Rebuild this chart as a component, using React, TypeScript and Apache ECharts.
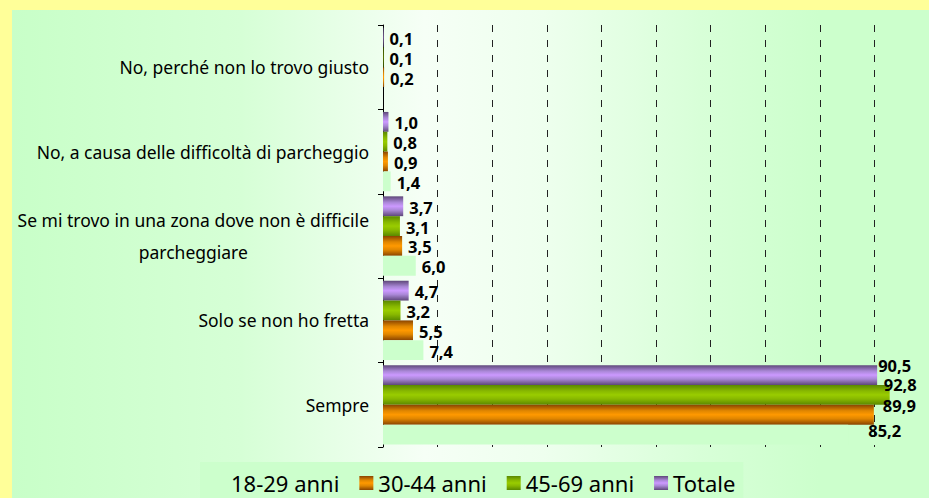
import React, { useEffect, useRef } from "react";
import * as echarts from "echarts";

const categories = [
  "Sempre",
  "Solo se non ho fretta",
  "Se mi trovo in una zona dove non è difficile\nparcheggiare",
  "No, a causa delle difficoltà di parcheggio",
  "No, perché non lo trovo giusto",
];
const legendNames = ["18-29 anni", "30-44 anni", "45-69 anni", "Totale"];
const values1829 = [85.2, 7.4, 6.0, 1.4, 0];
const values3044 = [89.9, 5.5, 3.5, 0.9, 0.2];
const values4569 = [92.8, 3.2, 3.1, 0.8, 0.1];
const valuesTotale = [90.5, 4.7, 3.7, 1.0, 0.1];

const grad = (edge: string, mid: string, center: string) =>
  new echarts.graphic.LinearGradient(0, 0, 0, 1, [
    { offset: 0, color: edge },
    { offset: 0.3, color: mid },
    { offset: 0.5, color: center },
    { offset: 0.7, color: mid },
    { offset: 1, color: edge },
  ]);

export default function App() {
  const ref = useRef<HTMLDivElement>(null);
  useEffect(() => {
    if (!ref.current) return;
    const chart = echarts.init(ref.current, undefined, { renderer: "svg" });
    const fmt = (p: any) =>
      p.value === 0 ? "" : Number(p.value).toFixed(1).replace(".", ",");

    const mk = (
      name: string,
      data: number[],
      color: any,
      firstShift: [number, number]
    ) => ({
      name,
      type: "bar",
      barGap: "0%",
      barCategoryGap: "6%",
      itemStyle: { color },
      label: {
        show: true,
        position: "right",
        distance: 6,
        offset: [0, 1],
        formatter: fmt,
        fontFamily: "Noto Sans",
        fontWeight: "bold",
        fontSize: 16.5,
        lineHeight: 17,
        color: "#000",
      },
      data: data.map((v, i) =>
        i === 0 ? { value: v, label: { offset: firstShift } } : { value: v }
      ),
    });

    chart.setOption({
      animation: false,
      textStyle: { fontFamily: "Noto Sans" },
      grid: { left: 371, right: -2, top: 15, bottom: 51, containLabel: false },
      legend: {
        data: legendNames,
        left: 188,
        top: 452,
        backgroundColor: "#CCFFCC",
        padding: [10, 8, 10, 12],
        itemWidth: 14,
        itemHeight: 14,
        itemGap: 20,
        icon: "rect",
        textStyle: { fontFamily: "Noto Sans", fontSize: 22, color: "#000" },
      },
      xAxis: {
        type: "value",
        min: 0,
        max: 100,
        interval: 10,
        axisLabel: { show: false },
        axisLine: { show: false },
        axisTick: { show: false },
        splitLine: {
          show: true,
          lineStyle: { color: "#222", width: 1, type: [7, 8] },
        },
      },
      yAxis: {
        type: "category",
        data: categories,
        axisLine: { show: true, lineStyle: { color: "#000", width: 1 } },
        axisTick: { show: true, length: 5, lineStyle: { color: "#000" } },
        axisLabel: {
          margin: 14,
          fontFamily: "Noto Sans",
          fontSize: 17.5,
          color: "#000",
          lineHeight: 32,
          formatter: (v: string) =>
            v
              .split("\n")
              .map((l) => `{c|${l}}`)
              .join("\n"),
          rich: {
            c: {
              align: "center",
              fontFamily: "Noto Sans",
              fontSize: 17.5,
              color: "#000",
              lineHeight: 32,
            },
          },
        },
      },
      series: [
        mk("Totale", valuesTotale, grad("#5E4879", "#A987D6", "#CC99FF"), [-5, -10]),
        mk("45-69 anni", values4569, grad("#5A8800", "#88B800", "#99CC00"), [-12, -10]),
        mk("30-44 anni", values3044, grad("#8A4400", "#E08600", "#FF9900"), [3, -9]),
        mk("18-29 anni", values1829, "#CCFFCC", [14, -4]),
      ],
    });
    return () => chart.dispose();
  }, []);

  return (
    <div
      style={{
        position: "absolute",
        left: 0,
        top: 0,
        width: 929,
        height: 498,
        background: "#FFFF99",
        overflow: "hidden",
      }}
    >
      <div
        style={{
          position: "absolute",
          left: 12,
          top: 10,
          width: 917,
          height: 488,
          background:
            "linear-gradient(to right, #C8FFC8 0%, #D6FFD6 25%, #F6FFF6 45%, #EEFFEE 58%, #D8FFD8 75%, #CCFFCC 88%, #CCFFCC 100%)",
        }}
      >
        <div ref={ref} style={{ width: 917, height: 488 }} />
      </div>
    </div>
  );
}
